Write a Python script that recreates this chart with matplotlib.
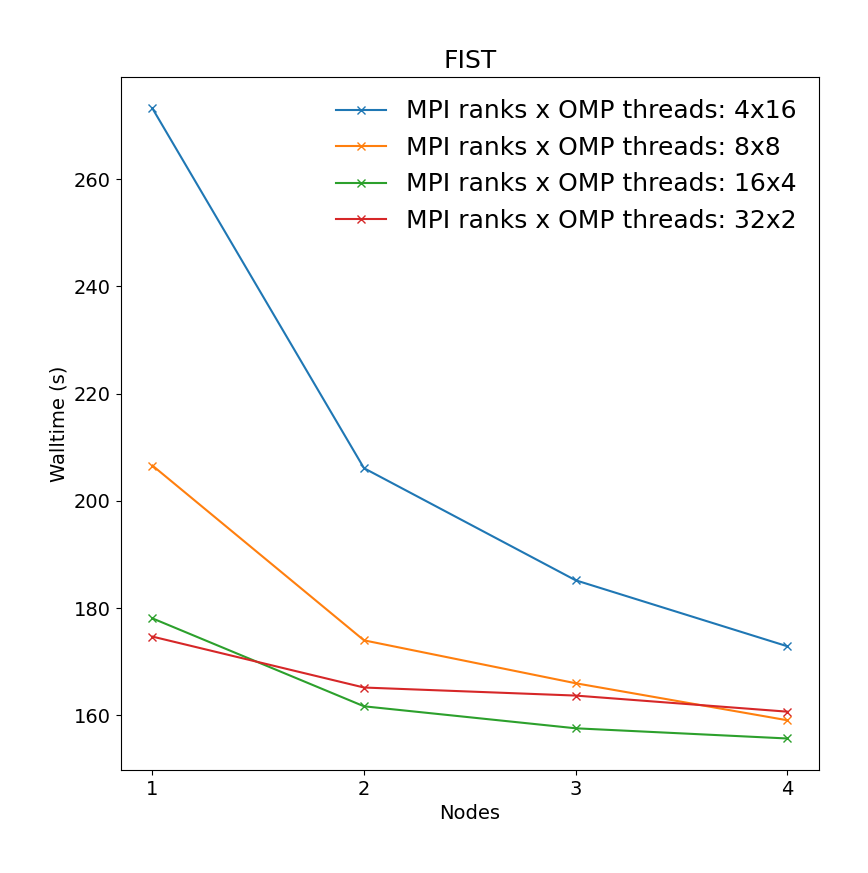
import matplotlib
matplotlib.use("Agg")
import matplotlib.pyplot as plt

nodes = [1, 2, 3, 4]
labels = ["4x16", "8x8", "16x4", "32x2"]
walltime_4x16 = [273.2, 206.1, 185.2, 172.9]
walltime_8x8 = [206.6, 174.0, 166.0, 159.1]
walltime_16x4 = [178.1, 161.7, 157.6, 155.7]
walltime_32x2 = [174.7, 165.2, 163.7, 160.7]

series = [walltime_4x16, walltime_8x8, walltime_16x4, walltime_32x2]

fig = plt.figure(figsize=(8.68, 8.73), dpi=100)
ax = fig.add_axes([0.139, 0.118, 0.8045, 0.794])

for lab, vals in zip(labels, series):
    ax.plot(nodes, vals, marker="x", label="MPI ranks x OMP threads: " + lab)

ax.set_xticks(nodes)
ax.tick_params(labelsize=14)
ax.set_xlabel("Nodes", fontsize=14)
ax.set_ylabel("Walltime (s)", fontsize=14)
ax.set_title("FIST", fontsize=18)
ax.legend(fontsize=18, frameon=False)

fig.savefig("out.png", dpi=100)
